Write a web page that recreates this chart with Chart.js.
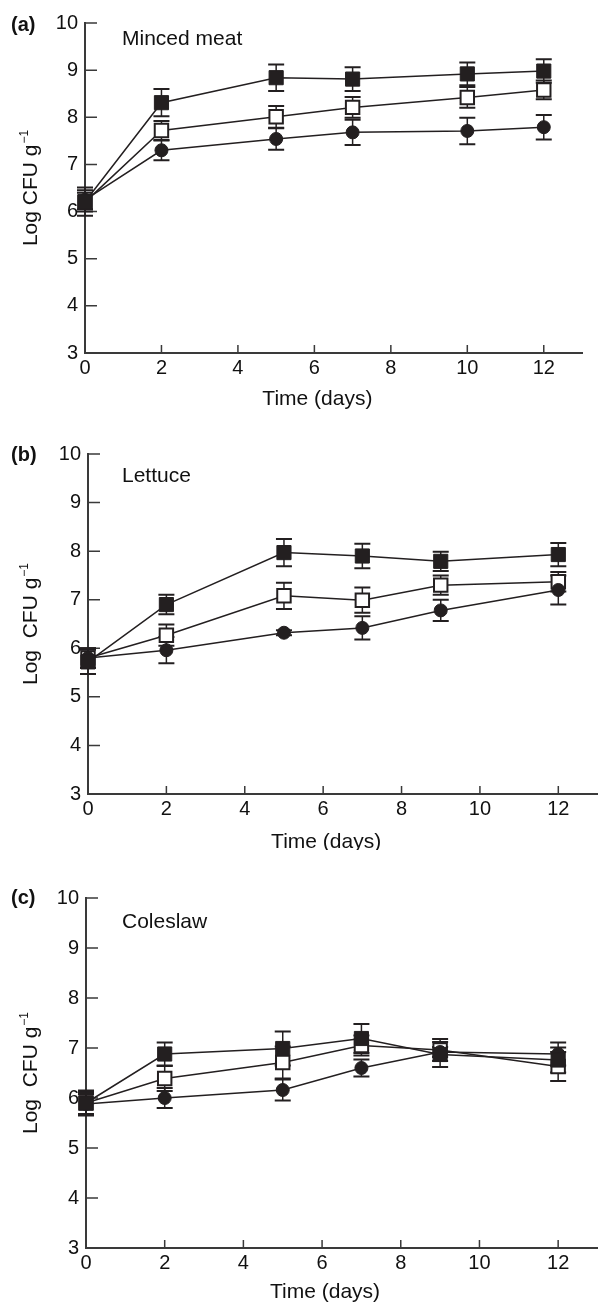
<!DOCTYPE html>
<html>
<head>
<meta charset="utf-8">
<title>Log CFU g-1 over storage time</title>
<script src="https://cdn.jsdelivr.net/npm/chart.js@4.4.1/dist/chart.umd.min.js"></script>
<style>
body{margin:0;background:#fff;}
#wrap{position:relative;width:609px;height:1304px;overflow:hidden;}
canvas{position:absolute;left:0;}
</style>
</head>
<body>
<div id="wrap">
<canvas id="chartA" width="609" height="420" style="top:0px"></canvas>
<canvas id="chartB" width="609" height="430" style="top:420px"></canvas>
<canvas id="chartC" width="609" height="454" style="top:850px"></canvas>
</div>
<script>
// tick labels shared by the three panels
const xTicks=[0,2,4,6,8,10,12];
const yTicks=[3,4,5,6,7,8,9,10];
const xTitle='Time (days)';

// (a) minced meat
const daysA=[0,2,5,7,10,12];
const filledA=[6.21,8.31,8.84,8.81,8.92,8.98];
const filledErrA=[0.3,0.29,0.28,0.25,0.24,0.25];
const openA=[6.2,7.72,8.01,8.21,8.42,8.58];
const openErrA=[0.2,0.2,0.23,0.22,0.22,0.2];
const circleA=[6.25,7.3,7.54,7.68,7.71,7.79];
const circleErrA=[0.2,0.21,0.23,0.27,0.28,0.26];

// (b) lettuce
const daysB=[0,2,5,7,9,12];
const filledB=[5.72,6.9,7.97,7.9,7.79,7.93];
const filledErrB=[0.25,0.2,0.28,0.25,0.2,0.24];
const openB=[5.8,6.27,7.08,6.99,7.3,7.37];
const openErrB=[0.2,0.22,0.27,0.26,0.2,0.2];
const circleB=[5.8,5.96,6.32,6.42,6.78,7.2];
const circleErrB=[0.2,0.27,0.05,0.24,0.22,0.3];

// (c) coleslaw
const daysC=[0,2,5,7,9,12];
const filledC=[5.9,6.88,6.99,7.19,6.87,6.76];
const filledErrC=[0.22,0.23,0.34,0.29,0.25,0.25];
const openC=[5.9,6.39,6.71,7.05,6.96,6.63];
const openErrC=[0.25,0.25,0.32,0.2,0.22,0.29];
const circleC=[5.88,6.0,6.16,6.6,6.92,6.88];
const circleErrC=[0.2,0.2,0.21,0.17,0.1,0.23];

const fontFam='"Liberation Sans", Arial, Helvetica, sans-serif';
const ink='#231f20';
const axisColor='#3a3a3a';

function makePanel(id,cfg){
  const pts=vals=>cfg.days.map((d,i)=>({x:d,y:vals[i]}));

  const deco={
    id:'deco',
    beforeDatasetsDraw(chart){
      const ctx=chart.ctx,a=chart.chartArea,x=chart.scales.x,y=chart.scales.y;
      ctx.save();
      ctx.strokeStyle=axisColor;
      ctx.lineWidth=1.5;
      // inward tick marks
      ctx.beginPath();
      xTicks.forEach(v=>{
        const px=x.getPixelForValue(v);
        ctx.moveTo(px,a.bottom);ctx.lineTo(px,a.bottom-8);
      });
      yTicks.forEach(v=>{
        const py=y.getPixelForValue(v);
        ctx.moveTo(a.left,py);ctx.lineTo(a.left+12,py);
      });
      ctx.stroke();
      // error bars
      ctx.strokeStyle=ink;
      cfg.series.forEach(s=>{
        s.vals.forEach((v,i)=>{
          const px=x.getPixelForValue(cfg.days[i]);
          const t=y.getPixelForValue(v+s.errs[i]);
          const b=y.getPixelForValue(v-s.errs[i]);
          ctx.lineWidth=1.5;
          ctx.beginPath();ctx.moveTo(px,t);ctx.lineTo(px,b);ctx.stroke();
          ctx.lineWidth=2;
          ctx.beginPath();
          ctx.moveTo(px-8,t);ctx.lineTo(px+8,t);
          ctx.moveTo(px-8,b);ctx.lineTo(px+8,b);
          ctx.stroke();
        });
      });
      ctx.restore();
    },
    afterDraw(chart){
      const ctx=chart.ctx,a=chart.chartArea,x=chart.scales.x;
      ctx.save();
      ctx.fillStyle='#111';
      ctx.textAlign='left';
      ctx.textBaseline='middle';
      ctx.font='bold 20px '+fontFam;
      ctx.fillText(cfg.letter,11,a.top+cfg.letterDy);
      ctx.textBaseline='alphabetic';
      ctx.font='21px '+fontFam;
      ctx.fillText(cfg.name,122,a.top+cfg.nameDy);
      ctx.textAlign='center';
      ctx.fillText(xTitle,x.getPixelForValue(6)+3,a.bottom+cfg.xTitleDy);
      // rotated y title with superscript
      ctx.translate(29,(a.top+a.bottom)/2);
      ctx.rotate(-Math.PI/2);
      ctx.textAlign='left';
      const w=ctx.measureText(cfg.yTitle).width;
      ctx.font='12px '+fontFam;
      const ws=ctx.measureText('\u22121').width;
      const start=-(w+ws+1)/2;
      ctx.font='21px '+fontFam;
      ctx.fillText(cfg.yTitle,start,7.5);
      ctx.font='12px '+fontFam;
      ctx.fillText('\u22121',start+w+1,-1);
      ctx.restore();
    }
  };

  const base={borderColor:ink,borderWidth:1.5,fill:false,tension:0,clip:false,
    pointBorderColor:ink};

  return new Chart(document.getElementById(id),{
    type:'line',
    data:{
      datasets:[
        Object.assign({label:'filled square',data:pts(cfg.series[0].vals),
          pointStyle:'rect',pointRadius:10,pointBackgroundColor:ink,pointBorderWidth:1},base),
        Object.assign({label:'circle',data:pts(cfg.series[2].vals),
          pointStyle:'circle',pointRadius:6.5,pointBackgroundColor:ink,pointBorderWidth:1},base),
        Object.assign({label:'open square',data:pts(cfg.series[1].vals),
          pointStyle:'rect',pointRadius:9.5,pointBackgroundColor:'#fff',pointBorderWidth:2},base)
      ]
    },
    options:{
      responsive:false,
      devicePixelRatio:1,
      animation:false,
      events:[],
      layout:{padding:{left:0,top:cfg.top,right:cfg.right,bottom:0}},
      plugins:{legend:{display:false},tooltip:{enabled:false}},
      scales:{
        x:{
          type:'linear',min:0,max:13,
          afterBuildTicks(s){s.ticks=xTicks.map(v=>({value:v}));},
          afterFit(s){s.height=cfg.xh;},
          grid:{display:false,drawTicks:false},
          border:{display:true,color:axisColor,width:2},
          ticks:{padding:3,color:'#111',maxRotation:0,autoSkip:false,font:{family:fontFam,size:20}}
        },
        y:{
          type:'linear',min:3,max:10,
          afterBuildTicks(s){s.ticks=yTicks.map(v=>({value:v}));},
          afterFit(s){s.width=cfg.yw;},
          grid:{display:false,drawTicks:false},
          border:{display:true,color:axisColor,width:2},
          ticks:{padding:7,color:'#111',font:{family:fontFam,size:20}}
        }
      }
    },
    plugins:[deco]
  });
}

let chartA=makePanel('chartA',{
  letter:'(a)',name:'Minced meat',yTitle:'Log CFU g',days:daysA,
  series:[{vals:filledA,errs:filledErrA},{vals:openA,errs:openErrA},{vals:circleA,errs:circleErrA}],
  top:23,right:27,yw:85,xh:67,letterDy:2,nameDy:22,xTitleDy:52
});
let chartB=makePanel('chartB',{
  letter:'(b)',name:'Lettuce',yTitle:'Log  CFU g',days:daysB,
  series:[{vals:filledB,errs:filledErrB},{vals:openB,errs:openErrB},{vals:circleB,errs:circleErrB}],
  top:34,right:11,yw:88,xh:56,letterDy:1,nameDy:28,xTitleDy:54
});
let chartC=makePanel('chartC',{
  letter:'(c)',name:'Coleslaw',yTitle:'Log  CFU g',days:daysC,
  series:[{vals:filledC,errs:filledErrC},{vals:openC,errs:openErrC},{vals:circleC,errs:circleErrC}],
  top:48,right:0,yw:86,xh:56,letterDy:0,nameDy:30,xTitleDy:50
});
</script>
</body>
</html>
